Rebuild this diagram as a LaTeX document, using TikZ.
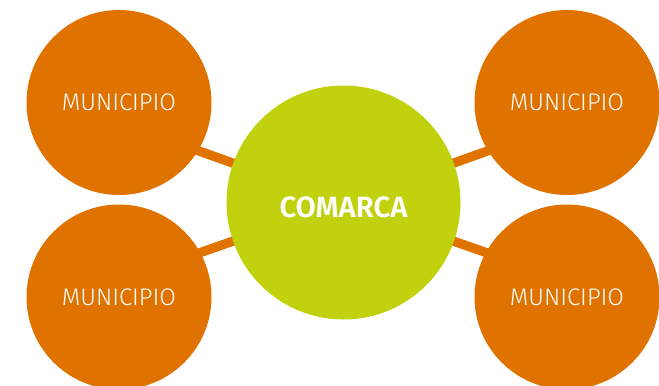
\documentclass[tikz,border=0pt]{standalone}
\usepackage{fontspec}
\setmainfont{Fira Sans}
\newfontfamily\lightfont{Fira Sans Light}
\newfontfamily\boldfont{Fira Sans SemiBold}
\usetikzlibrary{backgrounds}
\definecolor{orng}{RGB}{224,114,0}
\definecolor{lime}{RGB}{193,209,14}
\tikzset{
  muni/.style={circle,fill=orng,minimum size=138.75pt,inner sep=0pt,text=white,font=\lightfont\fontsize{18}{20}\selectfont},
  hub/.style={circle,fill=lime,minimum size=175.5pt,inner sep=0pt},
  hubtext/.style={inner sep=0pt,text=white,font=\boldfont\fontsize{22}{26}\selectfont},
  link/.style={draw=orng,line width=7pt}
}
\begin{document}
\begin{tikzpicture}[x=0.75pt,y=-0.75pt]
\useasboundingbox (0,0) rectangle (659,385);
\node[muni] (tl) at (119,102.5) {MUNICIPIO};
\node[muni] (bl) at (119,297) {MUNICIPIO};
\node[muni] (tr) at (567,102.5) {MUNICIPIO};
\node[muni] (br) at (567,297) {MUNICIPIO};
\begin{scope}[on background layer]
\coordinate (tla) at ([yshift=-15pt]tl.center);
\coordinate (bla) at ([yshift=12pt]bl.center);
\coordinate (tra) at ([yshift=-15pt]tr.center);
\coordinate (bra) at ([yshift=12pt]br.center);
\coordinate (cc) at (343.5,202.5);
\draw[link] (cc) -- (tla);
\draw[link] (cc) -- (bla);
\draw[link] (cc) -- (tra);
\draw[link] (cc) -- (bra);
\end{scope}
\node[hub] (c) at (cc) {};
\node[hubtext] (ct) at ([yshift=-3.5pt]c.center) {COMARCA};
\end{tikzpicture}
\end{document}
